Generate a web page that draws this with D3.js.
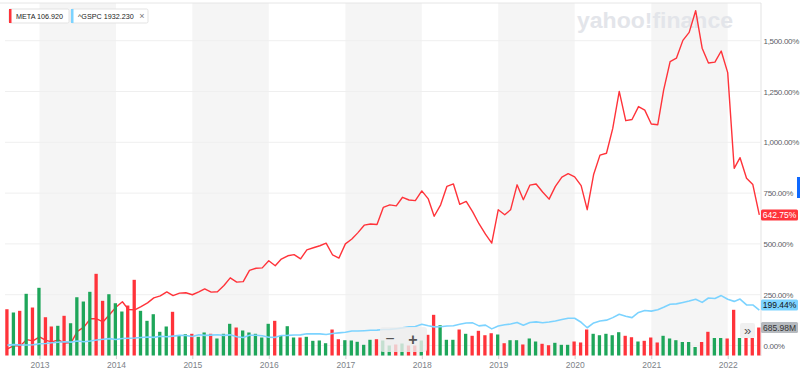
<!doctype html>
<html>
<head>
<meta charset="utf-8"/>
<title>META vs ^GSPC</title>
<script src="https://d3js.org/d3.v7.min.js"></script>
<style>
body{margin:0;background:#fff;}
svg{display:block;font-family:"Helvetica Neue",Helvetica,Arial,"Liberation Sans",sans-serif;}
</style>
</head>
<body>
<svg id="chart" width="800" height="374"></svg>

<script type="text/javascript">
// monthly points, Aug 2012 .. Jun 2022, % change since start
var firstMonth = new Date(2012, 7, 1);

var metaPct = [
  -16.8, -0.2, -2.8, 29.0, 22.6,
  42.7, 25.5, 17.8, 27.9, 12.2, 14.6, 69.5, 90.2, 131.4, 131.3, 116.5, 151.7,
  188.2, 215.3, 177.5, 175.4, 191.6, 210.0, 234.6, 244.6, 264.1, 245.4, 257.9, 259.4,
  249.7, 263.8, 278.7, 262.8, 264.8, 295.1, 333.0, 311.9, 314.1, 369.7, 380.1, 382.1,
  416.9, 392.5, 425.6, 441.6, 447.3, 426.4, 470.9, 480.9, 490.8, 503.4, 445.5, 429.9,
  500.3, 524.3, 554.3, 592.1, 597.7, 595.4, 679.6, 692.1, 687.1, 729.4, 716.1, 712.8,
  760.8, 721.4, 636.0, 692.3, 783.4, 795.1, 694.9, 709.4, 657.5, 599.2, 547.7, 503.8,
  667.8, 643.7, 667.8, 790.8, 717.5, 789.0, 794.7, 755.2, 720.3, 782.8, 828.8, 845.4,
  830.0, 786.6, 668.3, 842.9, 936.8, 945.9, 1068.5, 1250.5, 1106.4, 1111.9, 1175.8, 1158.2,
  1089.9, 1086.6, 1256.7, 1397.4, 1414.2, 1501.6, 1541.2, 1647.5, 1463.3, 1390.4, 1394.5, 1449.3,
  1342.9, 872.0, 924.2, 823.4, 791.9, 642.7
];

var gspcPct = [
  2.0, 4.5, 2.4, 2.7, 3.4,
  8.6, 9.8, 13.8, 15.8, 18.2, 16.5, 22.2, 18.4, 21.9, 27.4, 30.9, 34.0,
  29.2, 34.8, 35.7, 36.6, 39.5, 42.1, 40.0, 45.2, 43.0, 46.3, 49.9, 49.3,
  44.6, 52.6, 49.9, 51.2, 52.8, 49.6, 52.5, 43.0, 39.2, 50.8, 50.8, 48.2,
  40.7, 40.1, 49.3, 49.7, 52.0, 52.2, 57.6, 57.4, 57.2, 54.1, 59.4, 62.3,
  65.2, 71.4, 71.3, 72.9, 74.9, 75.7, 79.1, 79.2, 82.7, 86.7, 92.0, 93.8,
  104.7, 96.8, 91.5, 92.0, 96.1, 97.1, 104.2, 110.4, 111.3, 96.6, 100.1, 81.8,
  96.1, 101.9, 105.5, 113.6, 99.5, 113.3, 116.1, 112.2, 115.8, 120.2, 127.7, 134.2,
  133.9, 114.2, 87.4, 111.2, 120.7, 124.8, 137.2, 153.8, 143.8, 137.1, 162.6, 172.3,
  169.3, 176.3, 188.0, 203.1, 204.8, 211.6, 218.7, 227.9, 212.3, 233.9, 231.1, 245.6,
  227.4, 217.1, 228.5, 199.6, 199.6, 174.4
];

// META volume, millions
var volume = [
  1134, 1054, 1095, 1512, 1176,
  1659, 938, 711, 728, 973, 791, 1428, 1323, 1561, 2002, 1340, 1502,
  1281, 1078, 1225, 1855, 1095, 850, 1012, 581, 711, 1071, 483, 522,
  532, 458, 564, 532, 417, 532, 777, 686, 613, 564, 532, 441,
  777, 850, 483, 718, 441, 441, 458, 360, 368, 301, 637, 399,
  375, 368, 336, 262, 385, 399, 368, 245, 270, 294, 245, 245,
  368, 507, 997, 742, 385, 385, 637, 532, 483, 605, 497, 546,
  515, 301, 375, 375, 270, 417, 343, 287, 252, 311, 262, 262,
  343, 319, 637, 532, 497, 532, 497, 571, 483, 448, 343, 360,
  441, 319, 483, 417, 375, 331, 331, 208, 331, 581, 429, 429,
  417, 1120, 429, 429, 429, 686
];

// 1 = month closed up, 0 = down
var volUp = [
  0,1,0,1,0,
  1,0,0,1,0,1,1,1,1,0,0,1,
  1,1,0,0,1,1,1,1,1,0,1,1,
  0,1,1,0,1,1,1,0,1,1,1,1,
  1,0,1,1,1,0,1,1,1,1,0,0,
  1,1,1,1,1,0,1,1,0,1,0,0,
  1,0,0,1,1,1,0,1,0,0,0,0,
  1,0,1,1,0,1,1,0,0,1,1,1,
  0,0,0,1,1,1,1,1,0,0,1,0,
  0,0,1,1,1,1,1,1,0,0,1,1,
  0,0,1,0,0,0
];

var yTicks = [0, 250, 500, 750, 1000, 1250, 1500];
var yearTicks = [2013, 2014, 2015, 2016, 2017, 2018, 2019, 2020, 2021, 2022];
var shadedYears = [2013, 2015, 2017, 2019, 2021];

var metaLast = "642.75%", gspcLast = "199.44%", volLast = 685.98;

var svg = d3.select("#chart");
var plotTop = 3, plotBottom = 356, plotRight = 761;

var months = d3.timeMonth.range(firstMonth, d3.timeMonth.offset(firstMonth, metaPct.length));

var x = d3.scaleTime()
  .domain([new Date(2013, 0, 1), new Date(2022, 0, 1)])
  .range([39.5, 727.7]);
var y = d3.scaleLinear().domain([0, 1500]).range([345.5, 40.7]);
var yv = d3.scaleLinear().domain([0, 2000]).range([355.5, 273.9]);

// alternating year bands
svg.selectAll("rect.band")
  .data(shadedYears)
  .enter().append("rect")
  .attr("class", "band")
  .attr("x", function(d){ return x(new Date(d, 0, 1)); })
  .attr("y", plotTop)
  .attr("width", function(d){ return x(new Date(d + 1, 0, 1)) - x(new Date(d, 0, 1)); })
  .attr("height", plotBottom - plotTop)
  .attr("fill", "#f5f5f5");

// frame
svg.append("line").attr("x1", 0).attr("x2", plotRight).attr("y1", plotTop).attr("y2", plotTop)
  .attr("stroke", "#e6e6e6");
svg.append("line").attr("x1", plotRight).attr("x2", plotRight).attr("y1", plotTop).attr("y2", plotBottom)
  .attr("stroke", "#e3e3e3");

// gridlines
svg.selectAll("line.grid")
  .data(yTicks)
  .enter().append("line")
  .attr("class", "grid")
  .attr("x1", 5).attr("x2", plotRight)
  .attr("y1", function(d){ return y(d); })
  .attr("y2", function(d){ return y(d); })
  .attr("stroke", "#efefef");

// watermark
svg.append("text")
  .attr("x", 577).attr("y", 27.5)
  .attr("textLength", 156).attr("lengthAdjust", "spacingAndGlyphs")
  .style("font-size", "22px").style("font-weight", "bold")
  .attr("fill", "#e3e5ea")
  .text("yahoo!finance");

var lineGen = function(vals){
  return d3.line()
    .x(function(d, i){ return x(months[i]); })
    .y(function(d){ return y(d); })(vals);
};

// META line (under volume)
svg.append("path")
  .attr("d", lineGen(metaPct))
  .attr("fill", "none")
  .attr("stroke", "#ff333a")
  .attr("stroke-width", 1.4)
  .attr("stroke-linejoin", "round");

// volume bars
svg.selectAll("rect.vol")
  .data(volume)
  .enter().append("rect")
  .attr("class", "vol")
  .attr("x", function(d, i){ return x(months[i]) - 2.2; })
  .attr("y", function(d){ return yv(d); })
  .attr("width", 3.3)
  .attr("height", function(d){ return yv(0) - yv(d); })
  .attr("fill", function(d, i){ return volUp[i] ? "#1ea65a" : "#ff333a"; });

// ^GSPC line
svg.append("path")
  .attr("d", lineGen(gspcPct))
  .attr("fill", "none")
  .attr("stroke", "#7cd3ff")
  .attr("stroke-width", 1.6)
  .attr("stroke-linejoin", "round");

// right axis
var yAxis = d3.axisRight(y)
  .tickValues(yTicks)
  .tickSize(0)
  .tickPadding(2.5)
  .tickFormat(function(d){ return d3.format(",.2f")(d) + "%"; });
var gy = svg.append("g").attr("transform", "translate(" + plotRight + ",0)").call(yAxis);
gy.select(".domain").remove();
gy.selectAll("text").style("font-size", "8px").style("letter-spacing", "-0.3px").attr("fill", "#5b6066");

// bottom axis
var xAxis = d3.axisBottom(x)
  .tickValues(yearTicks.map(function(d){ return new Date(d, 0, 1); }))
  .tickSize(3)
  .tickPadding(3)
  .tickFormat(d3.timeFormat("%Y"));
var gx = svg.append("g").attr("transform", "translate(0," + plotBottom + ")").call(xAxis);
gx.select(".domain").remove();
gx.selectAll("line").attr("stroke", "#d0d0d0");
gx.selectAll("text").style("font-size", "8.5px").attr("fill", "#7c8288");

// last value tags
function tag(cy, label, bg, fg){
  var g = svg.append("g");
  g.append("rect").attr("x", 761).attr("y", cy - 5.5).attr("width", 37).attr("height", 11)
    .attr("rx", 1.5).attr("fill", bg);
  g.append("text").attr("x", 779.5).attr("y", cy + 3).attr("text-anchor", "middle")
    .style("font-size", "8.5px").attr("fill", fg).text(label);
}
tag(y(parseFloat(metaLast)), metaLast, "#ff333a", "#ffffff");
tag(y(parseFloat(gspcLast)), gspcLast, "#7cd3ff", "#111111");
tag(yv(volLast), volLast + "M", "#b6babf", "#333333");

// blue marker at right edge
svg.append("rect").attr("x", 797).attr("y", 177).attr("width", 3).attr("height", 21).attr("fill", "#0f69ff");

// zoom buttons
svg.append("rect").attr("x", 380).attr("y", 327).attr("width", 47).attr("height", 25).attr("rx", 3)
  .attr("fill", "#eeeeee").attr("fill-opacity", 0.8);
svg.append("text").attr("x", 390).attr("y", 344).attr("text-anchor", "middle")
  .style("font-size", "16px").attr("fill", "#555").text("\u2212");
svg.append("text").attr("x", 413).attr("y", 344.5).attr("text-anchor", "middle")
  .style("font-size", "16px").style("font-weight", "bold").attr("fill", "#555").text("+");

svg.append("rect").attr("x", 740).attr("y", 323).attr("width", 15).attr("height", 15).attr("rx", 2)
  .attr("fill", "#eeeeee").attr("fill-opacity", 0.9);
svg.append("text").attr("x", 747.5).attr("y", 334.5).attr("text-anchor", "middle")
  .style("font-size", "13px").attr("fill", "#555").text("\u00bb");

// legend chips
function chip(x0, w, color, label, closeX){
  var g = svg.append("g");
  g.append("rect").attr("x", x0).attr("y", 9).attr("width", w).attr("height", 14).attr("rx", 1.5)
    .attr("fill", "#ffffff").attr("stroke", "#e3e3e3");
  g.append("rect").attr("x", x0).attr("y", 9).attr("width", 2.5).attr("height", 14).attr("fill", color);
  g.append("text").attr("x", x0 + 7).attr("y", 18.8)
    .style("font-size", "7.2px").attr("fill", "#222").text(label);
  if (closeX) {
    g.append("text").attr("x", x0 + w - 6).attr("y", 19.3).attr("text-anchor", "middle")
      .style("font-size", "9px").attr("fill", "#777").text("\u00d7");
  }
}
chip(9, 60, "#ff333a", "META 106.920", false);
chip(71, 77, "#7cd3ff", "^GSPC 1932.230", true);
</script>
</body>
</html>
